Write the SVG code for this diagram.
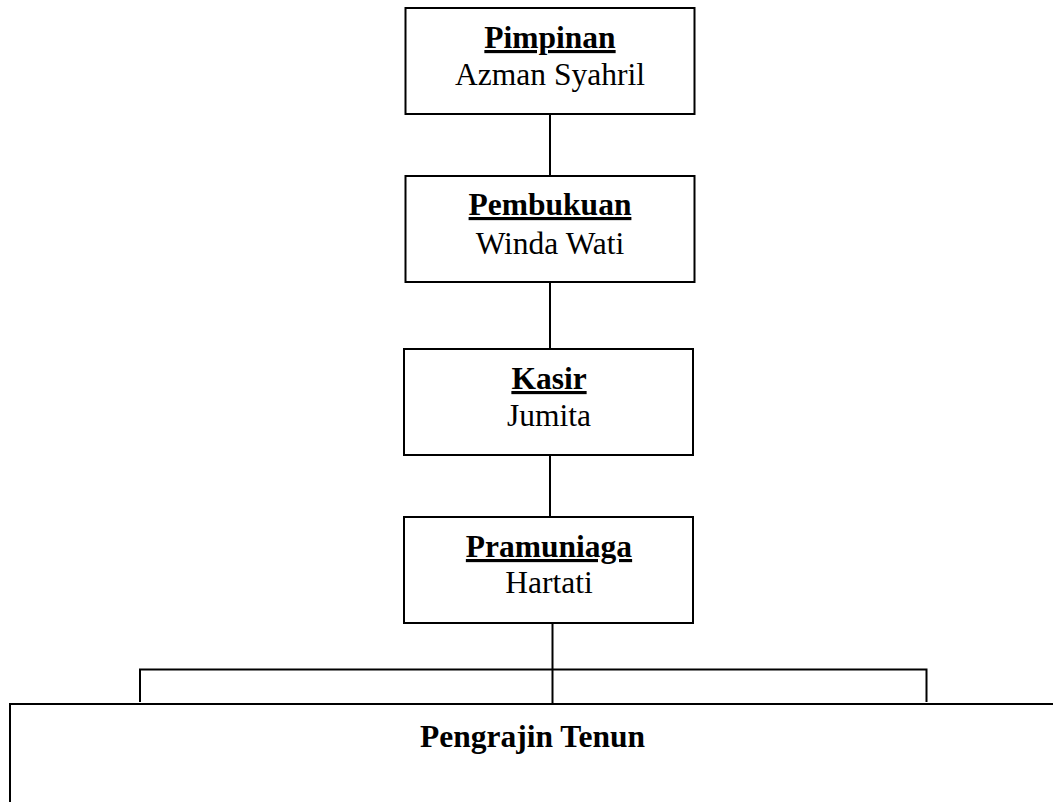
<svg xmlns="http://www.w3.org/2000/svg" width="1053" height="802" viewBox="0 0 1053 802">
<style>
rect.box{fill:#fff;stroke:#000;stroke-width:2}
.ln{stroke:#000;stroke-width:2;fill:none}
text{font-family:"Liberation Serif","Times New Roman",serif;font-size:31.5px;fill:#000;text-anchor:middle}
.t{font-weight:bold;text-decoration:underline}
.b{font-weight:bold}
</style>
<rect width="1053" height="802" fill="#fff"/>
<g id="connectors">
<line class="ln" x1="550" y1="114" x2="550" y2="176"/>
<line class="ln" x1="550" y1="282" x2="550" y2="349"/>
<line class="ln" x1="550" y1="455" x2="550" y2="517"/>
<line class="ln" x1="552.5" y1="623" x2="552.5" y2="704"/>
<polyline class="ln" points="140,702 140,669.5 926.5,669.5 926.5,702"/>
</g>
<g id="pimpinan">
<rect class="box" x="405.5" y="8" width="289" height="106"/>
<text class="t" x="550" y="48">Pimpinan</text>
<text x="550" y="85">Azman Syahril</text>
</g>
<g id="pembukuan">
<rect class="box" x="405.5" y="176" width="289" height="106"/>
<text class="t" x="550" y="215">Pembukuan</text>
<text x="550" y="254">Winda Wati</text>
</g>
<g id="kasir">
<rect class="box" x="404" y="349" width="289" height="106"/>
<text class="t" x="549" y="389">Kasir</text>
<text x="549" y="426">Jumita</text>
</g>
<g id="pramuniaga">
<rect class="box" x="404" y="517" width="289" height="106"/>
<text class="t" x="549" y="557">Pramuniaga</text>
<text x="549" y="593">Hartati</text>
</g>
<g id="pengrajin">
<polyline class="ln" points="10,802 10,704 1053,704"/>
<text class="b" x="532.5" y="747">Pengrajin Tenun</text>
</g>
</svg>
